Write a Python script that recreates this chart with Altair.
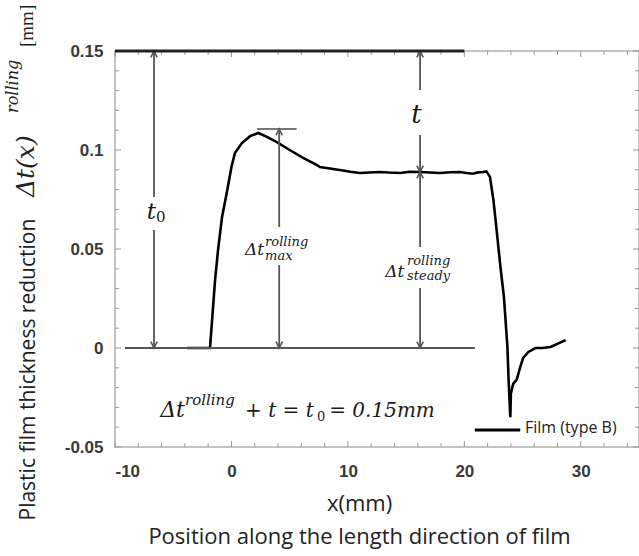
import altair as alt
import pandas as pd

# ---- measured curve (Film type B) ----
curve_x = [-3.8, -1.84, -1.41, -1.15, -0.81, -0.38, 0.0, 0.3, 0.9, 1.6, 2.3, 3.05, 3.9, 5.0,
           6.15, 7.35, 7.6, 9.3, 10.2, 11.0, 12.7, 13.5, 14.5, 15.3, 16.2, 17.9, 18.8, 19.6,
           20.2, 20.7, 21.2, 21.6, 21.9, 22.2, 22.5, 22.8, 23.1, 23.4, 23.7, 23.8, 23.95,
           24.0, 24.2, 24.5, 24.8, 25.05, 25.5, 26.1, 26.7, 27.4, 28.7]
curve_y = [0.0, 0.0, 0.034, 0.0495, 0.066, 0.079, 0.0914, 0.0985, 0.1035, 0.107, 0.1086,
           0.1066, 0.104, 0.100, 0.096, 0.0924, 0.0914, 0.0899, 0.0890, 0.0884, 0.0889,
           0.0886, 0.0884, 0.0890, 0.0889, 0.0884, 0.0888, 0.0889, 0.0884, 0.0880, 0.0887,
           0.0889, 0.0892, 0.0864, 0.0747, 0.058, 0.041, 0.0258, 0.0005, -0.016, -0.035,
           -0.023, -0.018, -0.016, -0.0096, -0.005, -0.002, 0.0, 0.0, 0.0005, 0.004]

# ---- axis ticks ----
x_labels = [-10, 0, 10, 20, 30]
x_minor = [-8, -6, -4, -2, 2, 4, 6, 8, 12, 14, 16, 18, 22, 24, 26, 28, 32, 34]
y_labels = [-0.05, 0.0, 0.05, 0.1, 0.15]
y_minor = [-0.04, -0.03, -0.02, -0.01, 0.01, 0.02, 0.03, 0.04, 0.06, 0.07, 0.08, 0.09,
           0.11, 0.12, 0.13, 0.14]

# ---- annotation geometry (data units) ----
t0 = 0.15
t_steady = 0.0889
t_max = 0.1106
seg_x = [-6.65, -6.65, 4.1, 4.1, 16.2, 16.2, 16.2, 16.2]
seg_y1 = [0.0, 0.0763, 0.0, 0.0611, 0.1303, t_steady, 0.0, 0.051]
seg_y2 = [0.0596, t0, 0.0419, t_max, t0, 0.1076, 0.0303, t_steady]
up_x = [-6.65, 4.1, 16.2, 16.2]
up_y = [t0, t_max, t0, t_steady]
down_x = [-6.65, 4.1, 16.2, 16.2]
down_y = [0.0, 0.0, t_steady, 0.0]

W, H = 524, 396
xs = alt.Scale(domain=[-10, 35], nice=False, zero=False)
ys = alt.Scale(domain=[-0.05, 0.15], nice=False, zero=False)

LABEL_EXPR = "replace(format(datum.value, ''), '\u2212', '-')"

x_axis = alt.Axis(values=x_labels, labelExpr=LABEL_EXPR,
                  labelFont="Liberation Sans", labelFontSize=17, labelFontWeight="bold",
                  labelColor="#3a3a3a", labelPadding=16, labelBaseline="top",
                  domain=False, ticks=False, tickSize=0, grid=False,
                  title=["x(mm)", "Position along the length direction of film"],
                  titleFont="Open Sans", titleFontSize=22, titleFontWeight="normal",
                  titleColor="#222222", titleX=244, titleY=63, titleAlign="center",
                  titleBaseline="alphabetic", titleLineHeight=33, titleAngle=0)
y_axis = alt.Axis(values=y_labels, labelExpr=LABEL_EXPR,
                  labelFont="Liberation Sans", labelFontSize=17, labelFontWeight="bold",
                  labelColor="#3a3a3a", labelPadding=12,
                  domain=False, ticks=False, tickSize=0, grid=False,
                  title="Plastic film  thickness reduction",
                  titleFont="Open Sans", titleFontSize=21, titleFontWeight="normal",
                  titleColor="#222222", titleAngle=270, titleAlign="left",
                  titleBaseline="alphabetic", titleX=-81, titleY=469)


def X(field):
    return alt.X(field, scale=xs, axis=x_axis)


def Y(field):
    return alt.Y(field, scale=ys, axis=y_axis)


curve_df = pd.DataFrame({"x": curve_x, "y": curve_y})
curve = alt.Chart(curve_df).mark_line(color="black", strokeWidth=2.6).encode(
    x=X("x:Q"), y=Y("y:Q"))


def hline(x1, x2, y, color, width):
    df = pd.DataFrame({"x": [x1], "x2": [x2], "y": [y]})
    return alt.Chart(df).mark_rule(color=color, strokeWidth=width).encode(
        x=X("x:Q"), x2="x2:Q", y=Y("y:Q"))


top_line = hline(-10, 20, t0, "#222222", 3)
zero_line = hline(-9.15, 20.9, 0.0, "#555555", 2)
peak_line = hline(2.2, 5.6, t_max, "#777777", 2)
legend_line = hline(20.9, 24.8, -0.0414, "black", 3)

seg_df = pd.DataFrame({"x": seg_x, "y": seg_y1, "y2": seg_y2})
segs = alt.Chart(seg_df).mark_rule(color="#555555", strokeWidth=1.8).encode(
    x=X("x:Q"), y=Y("y:Q"), y2="y2:Q")

up_df = pd.DataFrame({"x": up_x, "y": up_y})
down_df = pd.DataFrame({"x": down_x, "y": down_y})
heads_up = alt.Chart(up_df).mark_point(shape="M-0.8,1.6L0,0L0.8,1.6", filled=False, size=64,
                                       stroke="#555555", strokeWidth=1.6, opacity=1).encode(
    x=X("x:Q"), y=Y("y:Q"))
heads_down = alt.Chart(down_df).mark_point(shape="M-0.8,-1.6L0,0L0.8,-1.6", filled=False, size=64,
                                           stroke="#555555", strokeWidth=1.6, opacity=1).encode(
    x=X("x:Q"), y=Y("y:Q"))


def txt(x, y, s, size, align="left", baseline="alphabetic", font="DejaVu Serif",
        style="italic", color="#1a1a1a", dx=0, dy=0):
    df = pd.DataFrame({"x": [x], "y": [y], "s": [s]})
    return alt.Chart(df).mark_text(align=align, baseline=baseline, font=font, fontSize=size,
                                   fontStyle=style, color=color, dx=dx, dy=dy).encode(
        x=X("x:Q"), y=Y("y:Q"), text="s:N")


texts = [
    txt(-6.65, 0.0687, "t", 23, align="right", baseline="middle", dx=2),
    txt(-6.65, 0.0687, "0", 15, align="left", baseline="middle", style="normal", dx=2, dy=5),
    txt(15.9, 0.1177, "t", 26, align="center", baseline="middle"),
    txt(1.17, 0.047, "Δt", 17),
    txt(2.89, 0.0515, "rolling", 13),
    txt(2.89, 0.0444, "max", 13),
    txt(13.2, 0.0359, "Δt", 17),
    txt(15.08, 0.0419, "rolling", 13),
    txt(15.08, 0.0343, "steady", 13),
    txt(-6.12, -0.0348, "Δt", 22),
    txt(-3.99, -0.0288, "rolling", 15),
    txt(1.17, -0.0348, "+ t = t", 20),
    txt(7.35, -0.0348, "0", 13, style="normal", dy=4),
    txt(8.4, -0.0348, "= 0.15mm", 20),
    txt(25.2, -0.0404, "Film (type B)", 16, baseline="middle", font="Open Sans",
        style="normal", color="#222222"),
]


# y-title math part (rotated text placed beside the axis title)
def ytxt(px, py, s, size, font="DejaVu Serif", style="italic"):
    df = pd.DataFrame({"s": [s]})
    return alt.Chart(df).mark_text(angle=270, align="left", baseline="alphabetic", font=font,
                                   fontSize=size, fontStyle=style, color="#222222").encode(
        x=alt.value(px), y=alt.value(py), text="s:N")


ytitle = [
    ytxt(-81, 146, "Δt(x)", 25),
    ytxt(-97, 62, "rolling", 16),
    ytxt(-82, -4, "[mm]", 19, font="Liberation Serif", style="normal"),
]


# inward ticks
def xticks(vals, length, top):
    df = pd.DataFrame({"v": vals})
    if top:
        enc = dict(y=alt.value(0), y2=alt.value(length))
    else:
        enc = dict(y=alt.value(H), y2=alt.value(H - length))
    return alt.Chart(df).mark_rule(color="#999999", strokeWidth=1).encode(
        x=X("v:Q"), **enc)


def yticks(vals, length, right):
    df = pd.DataFrame({"v": vals})
    if right:
        enc = dict(x=alt.value(W), x2=alt.value(W - length))
    else:
        enc = dict(x=alt.value(0), x2=alt.value(length))
    return alt.Chart(df).mark_rule(color="#999999", strokeWidth=1).encode(
        y=Y("v:Q"), **enc)


ticks = [
    xticks(x_minor, 4, False), xticks(x_labels, 6, False),
    xticks(x_minor, 4, True), xticks(x_labels, 6, True),
    yticks(y_minor, 4, False), yticks(y_labels, 6, False),
    yticks(y_minor, 4, True), yticks(y_labels, 6, True),
]

chart = alt.layer(
    curve, *ticks, zero_line, peak_line, segs, heads_up, heads_down, top_line,
    legend_line, *texts, *ytitle
).properties(
    width=W, height=H, autosize="none",
    padding={"left": 115, "top": 51, "right": 0, "bottom": 109},
    background="white",
).configure_view(stroke="#b0b0b0", strokeWidth=1.5)

chart.save("out.html", embed_options={"renderer": "svg", "actions": False})
